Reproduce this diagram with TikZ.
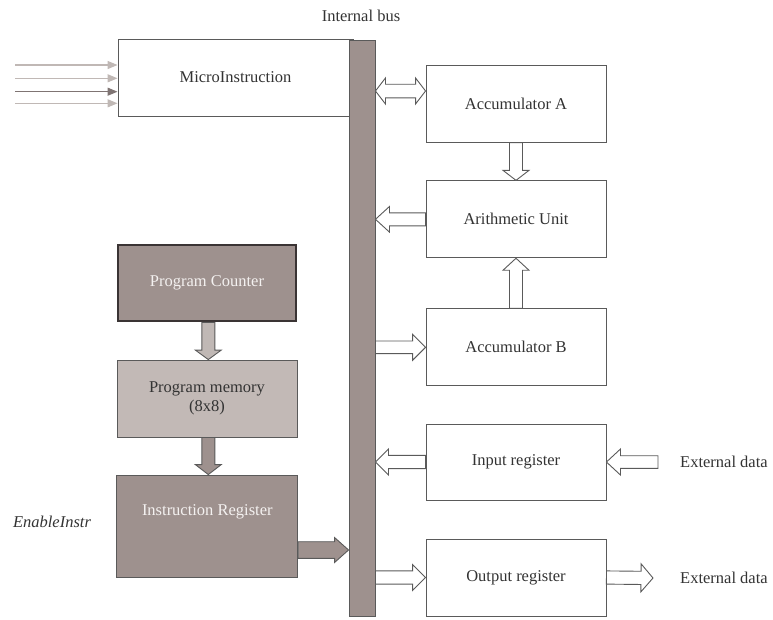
\documentclass[tikz,border=0pt]{standalone}
\usepackage{fontspec}
\setmainfont{Liberation Serif}
\usetikzlibrary{calc,arrows.meta}
\definecolor{busfill}{HTML}{9E918E}
\definecolor{pmfill}{HTML}{C2B9B6}
\definecolor{lightarr}{HTML}{C0B8B5}
\definecolor{darkarr}{HTML}{7F7473}
\definecolor{boxline}{HTML}{5A5A5A}
\definecolor{txt}{HTML}{333333}
\definecolor{lighttxt}{HTML}{F4F1F0}
\definecolor{pcborder}{HTML}{3A3434}

\newcommand\blockarrow[6]{% #1 style, #2 from, #3 to, #4 half shaft, #5 half head, #6 head length
  \coordinate (ba-h) at ($(#3)!#6!(#2)$);
  \draw[#1] ($(#2)!#4!90:(#3)$) -- ($(ba-h)!#4!90:(#3)$) -- ($(ba-h)!#5!90:(#3)$) -- (#3)
    -- ($(ba-h)!#5!-90:(#3)$) -- ($(ba-h)!#4!-90:(#3)$) -- ($(#2)!#4!-90:(#3)$) -- cycle;
}
\newcommand\dblarrow[6]{%
  \coordinate (da-h1) at ($(#2)!#6!(#3)$);
  \coordinate (da-h2) at ($(#3)!#6!(#2)$);
  \draw[#1] (#2) -- ($(da-h1)!#5!90:(#3)$) -- ($(da-h1)!#4!90:(#3)$) -- ($(da-h2)!#4!90:(#3)$)
    -- ($(da-h2)!#5!90:(#3)$) -- (#3) -- ($(da-h2)!#5!-90:(#3)$) -- ($(da-h2)!#4!-90:(#3)$)
    -- ($(da-h1)!#4!-90:(#3)$) -- ($(da-h1)!#5!-90:(#3)$) -- cycle;
}

\begin{document}
\begin{tikzpicture}[x=1pt,y=-1pt,
  font=\fontsize{16.5}{19}\selectfont,
  whitebox/.style={draw=boxline,line width=0.9pt,fill=white,text=txt,minimum width=180pt,minimum height=77pt,inner sep=0pt},
  pcbox/.style={draw=pcborder,line width=2.6pt,fill=busfill,text=lighttxt,minimum width=178pt,minimum height=76pt,inner sep=0pt},
  pmbox/.style={draw=boxline,line width=0.9pt,fill=pmfill,text=txt,minimum width=180pt,minimum height=77pt,inner sep=0pt,align=center},
  irbox/.style={draw=boxline,line width=0.9pt,fill=busfill,minimum width=181pt,minimum height=102pt,inner sep=0pt},
  busbar/.style={draw=boxline,line width=0.9pt,fill=busfill,minimum width=26pt,minimum height=576pt,inner sep=0pt},
  openarrow/.style={draw=boxline,line width=0.9pt,fill=white},
  lightblock/.style={draw=boxline,line width=0.9pt,fill=lightarr},
  darkblock/.style={draw=boxline,line width=0.9pt,fill=busfill},
  inline/.style={line width=1.2pt,-{Triangle[length=10pt,width=8pt]}},
  plain/.style={text=txt,inner sep=0pt}
]
\useasboundingbox (0,0) rectangle (773,619);

% nodes
\node[whitebox,minimum width=235pt] (micro) at (235.5,77.5) {MicroInstruction};
\node[pcbox] (pc) at (207,283) {Program Counter};
\node[pmbox] (pm) at (207,398.5) {Program memory\\(8x8)};
\node[irbox,label={[text=lighttxt,yshift=14pt]center:Instruction Register}] (ir) at (207.3,526) {};
\node[busbar] (bus) at (362,328) {};
\node[plain] (buslabel) at (361,16) {Internal bus};
\node[plain,font=\fontsize{16.5}{19}\selectfont\itshape] (enable) at (52,522) {EnableInstr};

\node[whitebox] (acca) at (516,103.7) {Accumulator A};
\node[whitebox] (au) at (516,219.3) {Arithmetic Unit};
\node[whitebox] (accb) at (516,347.3) {Accumulator B};
\node[whitebox,minimum height=76pt] (inreg) at (516,462) {Input register};
\node[whitebox] (outreg) at (516,577.5) {Output register};
\node[plain,anchor=west] (ext1) at (680,462) {External data};
\node[plain,anchor=west] (ext2) at (680,578) {External data};

% input lines to MicroInstruction
\coordinate (in1) at (15,65);
\coordinate (in2) at (15,78.3);
\coordinate (in3) at (15,91.7);
\coordinate (in4) at (15,103.3);
\draw[inline,lightarr] (in1) -- (in1 -| micro.west);
\draw[inline,lightarr] (in2) -- (in2 -| micro.west);
\draw[inline,darkarr] (in3) -- (in3 -| micro.west);
\draw[inline,lightarr] (in4) -- (in4 -| micro.west);

% bus <-> accumulator A
\coordinate (aA) at ([yshift=12.7pt]acca.west);
\coordinate (aB) at (bus.east |- aA);
\dblarrow{openarrow}{aB}{aA}{6.8pt}{13pt}{10pt}

% acc A -> AU
\blockarrow{openarrow}{acca.south}{au.north}{6.5pt}{13pt}{10pt}
% AU -> bus
\coordinate (auB) at (bus.east |- au.west);
\blockarrow{openarrow}{au.west}{auB}{6.5pt}{12.8pt}{14pt}
% acc B -> AU
\blockarrow{openarrow}{accb.north}{au.south}{6.5pt}{13pt}{12pt}
% bus -> acc B
\coordinate (bB) at (bus.east |- accb.west);
\blockarrow{openarrow}{bB}{accb.west}{6.3pt}{13pt}{13pt}
% input register -> bus
\coordinate (iB) at (bus.east |- inreg.west);
\blockarrow{openarrow}{inreg.west}{iB}{6.6pt}{13pt}{13pt}
% external -> input register
\coordinate (extin) at ([xshift=-22pt]ext1.west);
\blockarrow{openarrow}{extin}{inreg.east}{6.3pt}{13pt}{14pt}
% bus -> output register
\coordinate (oB) at (bus.east |- outreg.west);
\blockarrow{openarrow}{oB}{outreg.west}{6.6pt}{13pt}{13pt}
% output register -> external
\coordinate (extout) at ([xshift=-27pt]ext2.west);
\blockarrow{openarrow}{outreg.east}{extout}{6.6pt}{14pt}{12pt}

% program counter -> program memory
\coordinate (pcS) at ([xshift=1.3pt]pc.south);
\coordinate (pmN) at (pcS |- pm.north);
\blockarrow{lightblock}{pcS}{pmN}{6.5pt}{13pt}{9.5pt}
% program memory -> instruction register
\coordinate (pmS) at ([xshift=1.3pt]pm.south);
\coordinate (irN) at (pmS |- ir.north);
\blockarrow{darkblock}{pmS}{irN}{6.5pt}{13pt}{10pt}
% instruction register -> bus
\coordinate (irE) at ([yshift=-24pt]ir.east);
\coordinate (busW) at (bus.west |- irE);
\blockarrow{darkblock}{irE}{busW}{8.3pt}{12.5pt}{14pt}
\end{tikzpicture}
\end{document}
